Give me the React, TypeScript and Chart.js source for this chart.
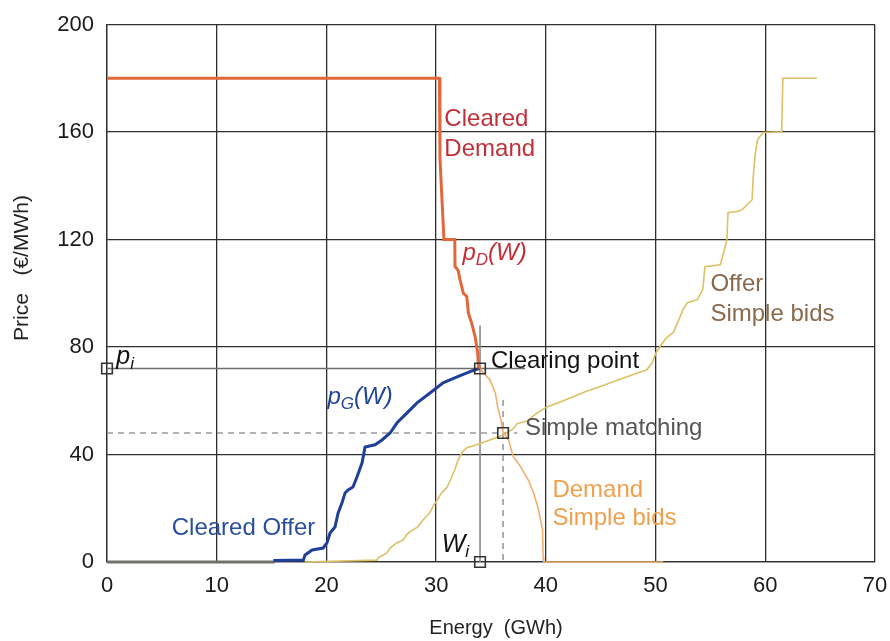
import { useEffect, useRef } from "react";
import { Chart, registerables } from "chart.js";

Chart.register(...registerables);

// Axis ranges and ticks
const energyRange = [0, 70];
const energyStep = 10;
const priceRange = [0, 200];
const priceStep = 40;

// Cleared demand curve p_D(W): [energy GWh, price €/MWh]
const clearedDemand: [number, number][] = [
  [0, 180], [30.3, 180], [30.35, 150], [30.7, 121], [30.7, 120], [31.7, 120],
  [31.72, 110], [32.0, 108.5], [32.18, 105], [32.48, 100], [32.79, 98.8],
  [32.94, 92.6], [33.24, 88.9], [33.55, 83.9], [33.79, 77.7], [33.85, 73], [34.0, 72],
];

// Demand simple bids below the clearing point
const demandSimpleBids: [number, number][] = [
  [34.0, 72], [34.3, 70.4], [34.9, 67.8], [35.4, 62.9], [35.6, 57.7], [35.9, 53],
  [36.1, 48.4], [36.6, 45.4], [37.0, 39.5], [37.7, 35.4], [38.4, 30.5], [38.9, 25.5],
  [39.3, 20], [39.7, 12], [39.75, 2], [39.8, 0], [50.7, 0],
];

// Cleared offer curve p_G(W)
const clearedOffer: [number, number][] = [
  [0, 0], [15.3, 0], [15.3, 0.6], [17.9, 0.7], [18.05, 2.6], [18.7, 4.5], [19.7, 5.2],
  [20.05, 7.1], [20.33, 10.8], [20.78, 13.0], [21.06, 18.2], [21.42, 22.0],
  [21.7, 25.7], [21.97, 26.8], [22.42, 27.9], [22.79, 31.7], [23.25, 36.9],
  [23.52, 42.8], [24.43, 43.6], [25.07, 45.4], [25.8, 48.0], [26.44, 51.8],
  [27.35, 55.5], [28.26, 59.2], [29.44, 62.9], [30.63, 66.7], [31.91, 68.9],
  [33.09, 70.8], [33.82, 71.9], [34.0, 72],
];

// Offer simple bids
const offerSimpleBids: [number, number][] = [
  [18, 0], [24.6, 0.7], [24.7, 1.5], [25.5, 3.4], [25.8, 5.2], [26.4, 7.1],
  [27.0, 8.2], [27.3, 10.1], [27.6, 11.2], [28.3, 13.0], [28.8, 15.6], [29.4, 18.2],
  [29.7, 20.5], [30.1, 23.1], [30.5, 25.7], [31.0, 27.9], [31.3, 30.5], [31.7, 34.3],
  [32.0, 38.0], [32.4, 41.0], [32.8, 42.5], [33.7, 43.6], [34.9, 45.4], [36.1, 47.3],
  [37.0, 49.5], [37.4, 51.5], [38.3, 52.5], [39.2, 55.5], [40.1, 57.7], [41.3, 59.5],
  [42.5, 61.5], [43.7, 63.5], [44.9, 65.2], [46.2, 67.2], [47.4, 68.9], [48.5, 70.5],
  [49.2, 71.5], [49.7, 74.1], [50.0, 77.5], [50.4, 80.1], [51.0, 83.5], [51.6, 85.3],
  [52.0, 89.0], [52.5, 93.9], [52.9, 96.5], [53.8, 97.6], [54.3, 101.3], [54.5, 109.9],
  [55.9, 110.6], [56.2, 115.1], [56.5, 119.9], [56.6, 130.0], [57.4, 130.4],
  [57.9, 131.1], [58.8, 134.8], [58.9, 143.4], [59.1, 152.3], [59.3, 157.2],
  [59.8, 159.8], [61.5, 160.1], [61.6, 180], [64.7, 180],
];

// Clearing point (W_i, p_i) and simple matching point
const clearingPoint: [number, number] = [34, 72];
const simpleMatching: [number, number] = [36.1, 48];

const FONT = "'Liberation Sans', Arial, Helvetica, sans-serif";

type Part = { t: string; size: number; italic?: boolean; dy?: number };

function drawRich(ctx: CanvasRenderingContext2D, parts: Part[], x: number, y: number, color: string) {
  ctx.save();
  ctx.fillStyle = color;
  ctx.textBaseline = "alphabetic";
  ctx.textAlign = "left";
  let cx = x;
  for (const p of parts) {
    ctx.font = `${p.italic ? "italic " : ""}${p.size}px ${FONT}`;
    ctx.fillText(p.t, cx, y + (p.dy || 0));
    cx += ctx.measureText(p.t).width;
  }
  ctx.restore();
}

const annotations = {
  id: "marketAnnotations",
  afterDatasetsDraw(chart: any) {
    const ctx: CanvasRenderingContext2D = chart.ctx;
    const xs = chart.scales.x;
    const ys = chart.scales.y;
    const px = (v: number) => xs.getPixelForValue(v);
    const py = (v: number) => ys.getPixelForValue(v);
    const plain = (t: string, size = 24): Part[] => [{ t, size }];

    drawRich(ctx, plain("Cleared"), px(30.75), py(162.3), "#c0303a");
    drawRich(ctx, plain("Demand"), px(30.75), py(151.1), "#c0303a");
    drawRich(ctx, [
      { t: "p", size: 24, italic: true },
      { t: "D", size: 17, italic: true, dy: 5 },
      { t: "(W)", size: 24, italic: true },
    ], px(32.4), py(112.5), "#c0303a");

    drawRich(ctx, plain("Offer"), px(55.0), py(100.9), "#8a6a4c");
    drawRich(ctx, plain("Simple bids"), px(55.0), py(89.7), "#8a6a4c");

    drawRich(ctx, plain("Clearing point"), px(35.0), py(72.2), "#111111");
    drawRich(ctx, [
      { t: "p", size: 24, italic: true },
      { t: "G", size: 17, italic: true, dy: 5 },
      { t: "(W)", size: 24, italic: true },
    ], px(20.1), py(58.8), "#1f4496");

    drawRich(ctx, plain("Simple matching"), px(38.1), py(47.3), "#555555");

    drawRich(ctx, plain("Demand"), px(40.6), py(24.2), "#f0a04c");
    drawRich(ctx, plain("Simple bids"), px(40.6), py(13.8), "#f0a04c");

    drawRich(ctx, plain("Cleared Offer"), px(5.9), py(10.1), "#2a4e9e");

    drawRich(ctx, [
      { t: "p", size: 25, italic: true },
      { t: "i", size: 17, italic: true, dy: 5 },
    ], px(0.85), py(73.5), "#111111");
    drawRich(ctx, [
      { t: "W", size: 25, italic: true },
      { t: "i", size: 17, italic: true, dy: 5 },
    ], px(30.5), py(3.7), "#111111");

    // Axis titles
    ctx.save();
    ctx.fillStyle = "#222222";
    ctx.font = `20px ${FONT}`;
    ctx.textAlign = "center";
    ctx.textBaseline = "middle";
    ctx.fillText("Energy  (GWh)", 496, 628);
    ctx.font = `21px ${FONT}`;
    ctx.translate(22, 268);
    ctx.rotate(-Math.PI / 2);
    ctx.fillText("Price   (€/MWh)", 0, 0);
    ctx.restore();
  },
};

export default function App() {
  const canvasRef = useRef<HTMLCanvasElement | null>(null);

  useEffect(() => {
    const canvas = canvasRef.current;
    if (!canvas) return;

    const toPts = (arr: [number, number][]) => arr.map(([x, y]) => ({ x, y }));
    const line = (data: [number, number][], color: string, width: number, order: number, extra: any = {}) => ({
      data: toPts(data),
      showLine: true,
      borderColor: color,
      backgroundColor: color,
      borderWidth: width,
      pointRadius: 0,
      tension: 0,
      order,
      ...extra,
    });

    const [wi, pi] = clearingPoint;
    const [ws, ps] = simpleMatching;
    // let curves lying on the energy axis show their full stroke width
    const bottomClip = { clip: { left: 0, top: 0, right: 0, bottom: 3 } };

    const chart = new Chart(canvas, {
      type: "scatter",
      data: {
        datasets: [
          // markers on top
          {
            data: [
              { x: 0, y: pi },
              { x: wi, y: pi },
              { x: ws, y: ps },
              { x: wi, y: 0 },
            ],
            showLine: false,
            pointStyle: "rect",
            pointRadius: 7.5,
            pointBorderWidth: 1.6,
            pointBorderColor: "#333333",
            pointBackgroundColor: "rgba(0,0,0,0)",
            clip: false,
            order: 0,
          } as any,
          line(clearedDemand, "#e2673a", 3, 1),
          line(clearedOffer, "#1f3f99", 3, 2, {
            ...bottomClip,
            segment: {
              borderColor: (c: any) => (c.p0DataIndex === 0 ? "#707268" : undefined),
            },
          }),
          line(demandSimpleBids, "#f2ae6c", 1.6, 3, bottomClip),
          line(offerSimpleBids, "#dcc064", 1.6, 4, bottomClip),
          // reference lines through the clearing point
          line([[0, pi], [38.1, pi]], "#6e6e6e", 1.6, 5),
          line([[wi, 88], [wi, 0]], "#8a8a8a", 1.6, 5),
          // dashed lines through the simple matching point
          line([[0, ps], [37.4, ps]], "#9a9a9a", 1.6, 6, { borderDash: [6, 5] }),
          line([[ws, 60.3], [ws, 0]], "#9a9a9a", 1.6, 6, { borderDash: [6, 5] }),
        ],
      },
      options: {
        responsive: false,
        animation: false,
        devicePixelRatio: 1,
        layout: { padding: { top: 24.5, right: 15, left: 0, bottom: 0 } },
        plugins: { legend: { display: false }, tooltip: { enabled: false } },
        scales: {
          x: {
            type: "linear",
            min: energyRange[0],
            max: energyRange[1],
            ticks: {
              stepSize: energyStep,
              font: { size: 22, family: FONT },
              color: "#1a1a1a",
              padding: 11,
              maxRotation: 0,
            },
            grid: { color: "#2e2e2e", lineWidth: 1.3, drawTicks: false },
            border: { color: "#2e2e2e", width: 1.3 },
            afterFit(s: any) {
              s.height = 79;
              s.paddingLeft = 0;
              s.paddingRight = 0;
            },
          },
          y: {
            type: "linear",
            min: priceRange[0],
            max: priceRange[1],
            ticks: {
              stepSize: priceStep,
              font: { size: 22, family: FONT },
              color: "#1a1a1a",
              padding: 13,
            },
            grid: { color: "#2e2e2e", lineWidth: 1.3, drawTicks: false },
            border: { color: "#2e2e2e", width: 1.3 },
            afterFit(s: any) {
              s.width = 107;
              s.paddingTop = 0;
              s.paddingBottom = 0;
            },
          },
        },
      },
      plugins: [annotations],
    });

    return () => chart.destroy();
  }, []);

  return (
    <div style={{ position: "absolute", left: 0, top: 0, width: 890, height: 641, background: "#ffffff" }}>
      <canvas ref={canvasRef} width={890} height={641} />
    </div>
  );
}
